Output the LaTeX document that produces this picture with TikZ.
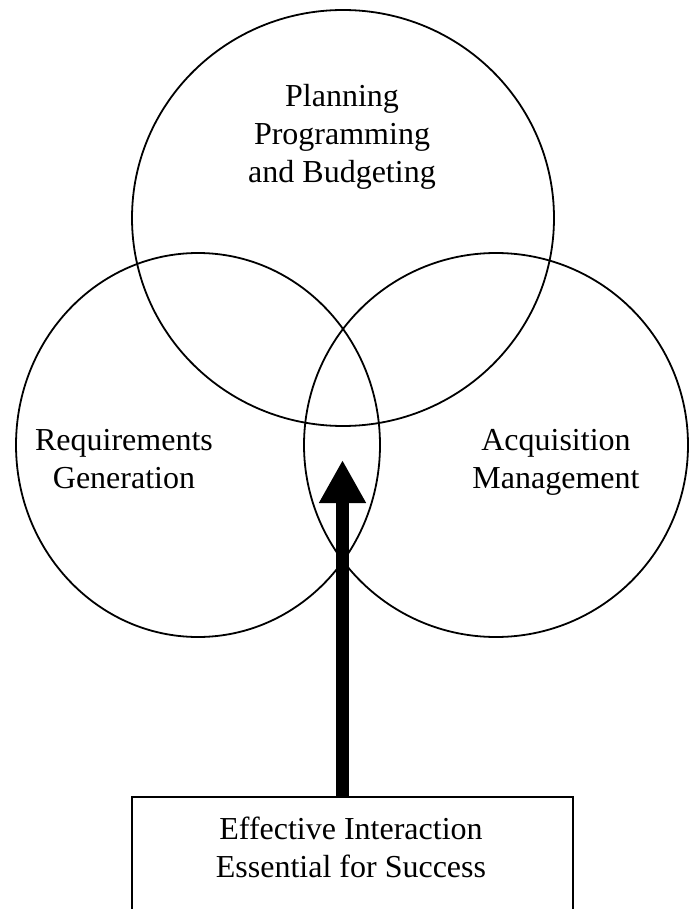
\documentclass[tikz,border=0pt]{standalone}
\usepackage{fontspec}
\setmainfont{Liberation Serif}
\usetikzlibrary{arrows.meta}
\tikzset{
  ring/.style={draw=black, line width=1.8pt},
  lbl/.style={align=center, inner sep=0pt, font=\fontsize{32}{38}\selectfont},
  bigarrow/.style={line width=13pt, -{Triangle[width=44pt,length=43pt]}},
  msgbox/.style={draw=black, line width=2pt, minimum width=441pt, minimum height=200pt, inner sep=0pt}
}
\begin{document}
\begin{tikzpicture}[x=1pt,y=-1pt]
\useasboundingbox (0,0) rectangle (694,909);
\clip (0,0) rectangle (694,909);
\fill[white] (0,0) rectangle (694,909);
\draw[ring] (343,218) ellipse [x radius=211, y radius=208];
\draw[ring] (198,445) ellipse [x radius=182, y radius=192];
\draw[ring] (496,445) ellipse [x radius=192, y radius=192];
\node[lbl, anchor=base] (ppb) at (342,183) {Planning\\Programming\\and Budgeting};
\node[lbl, anchor=base] (req) at (124,488) {Requirements\\Generation};
\node[lbl, anchor=base] (acq) at (556,488) {Acquisition\\Management};
\node[msgbox] (box) at (352.5,897) {};
\node[lbl, anchor=base] (msg) at (351,877) {Effective Interaction\\Essential for Success};
\coordinate (tip) at (342.5,460);
\draw[bigarrow] (tip |- box.north) -- (tip);
\end{tikzpicture}
\end{document}
